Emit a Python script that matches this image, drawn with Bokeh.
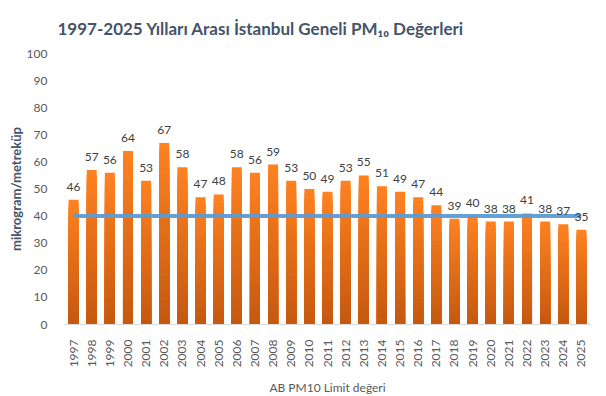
from bokeh.plotting import figure
from bokeh.models import ColumnDataSource, LabelSet, FactorRange, Range1d
from bokeh.embed import file_html
from bokeh.resources import INLINE
from bokeh.core.properties import value
import math

years = [str(y) for y in range(1997, 2026)]
pm10 = [46, 57, 56, 64, 53, 67, 58, 47, 48, 58, 56, 59, 53, 50, 49, 53, 55, 51, 49, 47, 44, 39, 40, 38, 38, 41, 38, 37, 35]
limit = [40] * len(years)
y_ticks = list(range(0, 101, 10))
title_text = "1997-2025 Yılları Arası İstanbul Geneli PM₁₀ Değerleri"
legend_text = "AB PM10 Limit değeri"
y_label = "mikrogram/metreküp"

FONT = "Lato"

p = figure(x_range=FactorRange(*years, range_padding=0), y_range=Range1d(0, 100),
           frame_width=526, frame_height=271, output_backend="svg", toolbar_location=None,
           min_border_left=64, min_border_right=10, min_border_top=52, min_border_bottom=67)
p.outline_line_color = None
p.grid.visible = False
p.background_fill_color = "white"
p.border_fill_color = "white"

# gradient bars (layered)
top_c = (255, 130, 32)
bot_c = (196, 88, 16)
N = 30
for k in range(N):
    frac_top = 1 - k / N
    mid = 1 - (k + 0.5) / N
    c = tuple(int(round(bot_c[i] + (top_c[i] - bot_c[i]) * mid)) for i in range(3))
    col = "#%02x%02x%02x" % c
    p.vbar(x=years, top=[v * frac_top for v in pm10], width=0.55, color=col, line_color=None)

src = ColumnDataSource(dict(x=years, y=pm10, t=[str(v) for v in pm10]))

r_line = p.line(x=years, y=limit, line_color="#5B9BD5", line_width=4, line_alpha=0.95)

labels = LabelSet(x="x", y="y", text="t", source=src, text_align="center", text_baseline="alphabetic",
                  y_offset=9, text_font=value(FONT), text_font_size="12px", text_color="#404040")
p.add_layout(labels)

for ax in (p.xaxis[0], p.yaxis[0]):
    ax.major_tick_line_color = None
    ax.minor_tick_line_color = None
    ax.major_label_text_font = FONT
    ax.major_label_text_font_size = "12px"
    ax.major_label_text_color = "#595959"

p.yaxis.ticker = y_ticks
p.yaxis.axis_line_color = None
p.yaxis.major_label_standoff = 11
p.yaxis.axis_label = y_label
p.yaxis.axis_label_text_font = FONT
p.yaxis.axis_label_text_font_size = "13px"
p.yaxis.axis_label_text_font_style = "bold"
p.yaxis.axis_label_text_color = "#44546A"
p.yaxis.axis_label_standoff = 0

p.xaxis.axis_line_color = "#D9D9D9"
p.xaxis.major_label_orientation = math.pi / 2
p.xaxis.major_label_standoff = 9
# legend text shown beneath the year labels
p.xaxis.axis_label = legend_text
p.xaxis.axis_label_text_font = FONT
p.xaxis.axis_label_text_font_size = "12px"
p.xaxis.axis_label_text_font_style = "normal"
p.xaxis.axis_label_text_color = "#595959"
p.xaxis.axis_label_standoff = 10

p.title.text = title_text
p.title.align = "left"
p.title.offset = -7
p.title.standoff = 30
p.title.text_font = FONT
p.title.text_font_size = "17px"
p.title.text_font_style = "bold"
p.title.text_color = "#44546A"

open("out.html", "w").write(file_html(p, INLINE))
